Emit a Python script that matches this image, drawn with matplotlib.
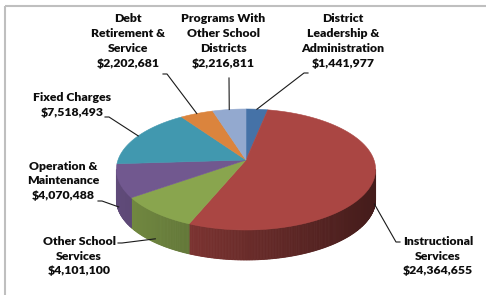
import numpy as np
import matplotlib.pyplot as plt
from matplotlib.colors import to_rgb
from matplotlib.patches import Rectangle

# data, in the order Excel draws the slices (clockwise from 12 o'clock)
categories = ['District\nLeadership &\nAdministration', 'Instructional\nServices',
              'Other School\nServices', 'Operation &\nMaintenance', 'Fixed Charges',
              'Debt\nRetirement &\nService', 'Programs With\nOther School\nDistricts']
amounts = [1441977, 24364655, 4101100, 4070488, 7518493, 2202681, 2216811]
colors = ['#4572A7', '#AA4643', '#89A54E', '#71588F', '#4198AF', '#DB843D', '#93A9CF']

# layout (pixels): label block centre and start of the leader line
label_xy = [(343, 41), (438, 256), (79, 256), (63, 181), (72, 105), (128, 41), (223, 41)]
leader_start = [(308, 73), (400, 242), (118, 243), (98, 201), (105, 117), (163, 74), (229, 78)]

# 3d pie geometry
cx, cy = 246, 160      # projected centre of the disc
a, c, k = 128, 59, 0.157
depth = 30


def project(phi):
	X = np.sin(phi)
	Y = np.cos(phi)
	d = 1 + k * Y
	return cx + a * X / d, cy - c * Y / d


def shade(col, x):
	left = cx - a * 1.0126
	t = (x - left) / (2 * a * 1.0126)
	f = 0.85 - 0.45 * t
	r, g, b = to_rgb(col)
	return (r * f, g * f, b * f)


fig = plt.figure(figsize=(4.86, 2.95), dpi=100)
ax = fig.add_axes([0, 0, 1, 1])
ax.set_xlim(0, 486)
ax.set_ylim(295, 0)
ax.axis('off')

ax.add_patch(Rectangle((5, 6), 500, 300, fill=False, edgecolor='#BFBFBF', lw=1.5))

total = sum(amounts)
bounds = np.concatenate([[0], np.cumsum(amounts) / total]) * 2 * np.pi

# outer side, only the part that faces us
vis_lo = np.arccos(-k)
vis_hi = 2 * np.pi - vis_lo
for i in range(len(amounts)):
	lo = max(bounds[i], vis_lo)
	hi = min(bounds[i + 1], vis_hi)
	if hi <= lo:
		continue
	steps = np.linspace(lo, hi, max(int((hi - lo) / 0.01), 2))
	for p0, p1 in zip(steps[:-1], steps[1:]):
		x0, y0 = project(p0)
		x1, y1 = project(p1)
		col = shade(colors[i], (x0 + x1) / 2)
		ax.fill([x0, x1, x1, x0], [y0, y1, y1 + depth, y0 + depth],
				color=col, lw=0.6, ec=col)

# top faces
for i in range(len(amounts)):
	phis = np.linspace(bounds[i], bounds[i + 1], 80)
	xs, ys = project(phis)
	ax.fill(np.concatenate([[cx], xs]), np.concatenate([[cy], ys]),
			color=colors[i], lw=0.4, ec=colors[i])

# labels and leader lines
for i in range(len(amounts)):
	mid = (bounds[i] + bounds[i + 1]) / 2
	ex, ey = project(mid)
	if np.cos(mid) < 0:
		ey += depth * 0.87
	sx, sy = leader_start[i]
	if abs(ex - sx) > 10:
		step = 4 if ex > sx else -4
		ax.plot([sx, sx + step, ex], [sy, sy, ey], color='#1a1a1a', lw=0.8)
	else:
		ax.plot([sx, ex], [sy, ey], color='#1a1a1a', lw=0.8)
	lx, ly = label_xy[i]
	ax.text(lx, ly, categories[i] + '\n$' + format(amounts[i], ','),
			ha='center', va='center', multialignment='center',
			fontsize=8.8, fontweight='heavy', family='Lato', linespacing=1.42,
			color='#0d0d0d')

fig.savefig('out.png', dpi=100)
